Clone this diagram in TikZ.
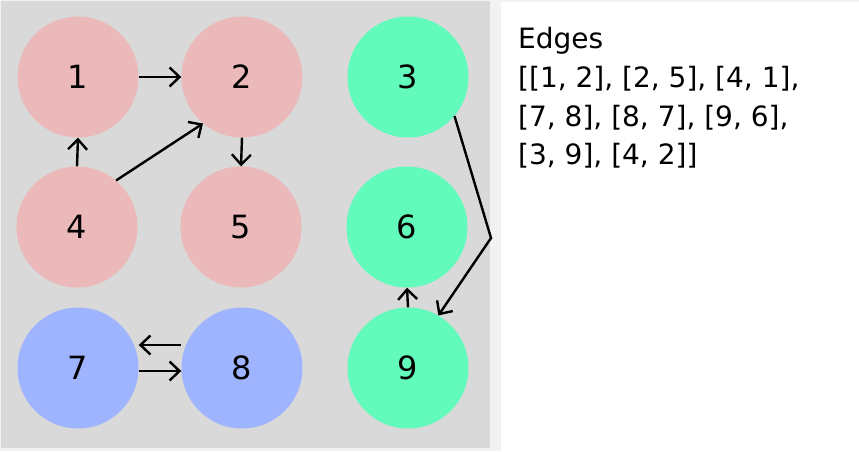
\documentclass[tikz,border=0pt]{standalone}
\usepackage{fontspec}
\setmainfont{DejaVu Sans}
\usetikzlibrary{arrows.meta}
\definecolor{pinkc}{HTML}{EBB9B9}
\definecolor{greenc}{HTML}{62FBBB}
\definecolor{bluec}{HTML}{9FB4FF}
\definecolor{panel}{HTML}{D9D9D9}
\definecolor{outer}{HTML}{F2F2F2}
\tikzset{
  vtx/.style={circle, minimum size=121pt, inner sep=0pt, draw=none, font=\fontsize{32}{38}\selectfont},
  pinkv/.style={vtx, fill=pinkc},
  greenv/.style={vtx, fill=greenc},
  bluev/.style={vtx, fill=bluec},
  conn/.style={line width=2.4pt, -{Straight Barb[length=10pt,width=19pt,line width=2.4pt]}},
  edgetxt/.style={anchor=base west, inner sep=0pt, font=\fontsize{28}{33}\selectfont}
}
\begin{document}
\begin{tikzpicture}[x=1pt,y=-1pt]
\fill[outer] (0,0) rectangle (859,451);
\useasboundingbox (0,0) rectangle (859,451);
\fill[panel] (1,1) rectangle (490,448);
\fill[white] (501,2) rectangle (859,451);

\node[pinkv] (n1) at (78,77) {1};
\node[pinkv] (n2) at (242,77) {2};
\node[greenv] (n3) at (408,77) {3};
\node[pinkv] (n4) at (77,227) {4};
\node[pinkv] (n5) at (241,227) {5};
\node[greenv] (n6) at (407,227) {6};
\node[bluev] (n7) at (78,368) {7};
\node[bluev] (n8) at (242,368) {8};
\node[greenv] (n9) at (408,368) {9};

\coordinate (bend) at (491,238);

\draw[conn] (n1.east) -- (n2.west);
\draw[conn] (n4.north) -- (n1.south);
\draw[conn] (n4.50) -- (n2.230);
\draw[conn] (n2.south) -- (n5.north);
\draw[conn] ([yshift=23pt]n8.west) -- ([yshift=23pt]n7.east);
\draw[conn] ([yshift=-3pt]n7.east) -- ([yshift=-3pt]n8.west);
\draw[conn] (n9.north) -- (n6.south);
\draw[conn] (n3.-40) -- (bend) -- (n9.60);

\node[edgetxt] (t0) at (518,48) {Edges};
\node[edgetxt] (t1) at (518,87) {[[1, 2], [2, 5], [4, 1],};
\node[edgetxt] (t2) at (518,126) {[7, 8], [8, 7], [9, 6],};
\node[edgetxt] (t3) at (518,164) {[3, 9], [4, 2]]};
\end{tikzpicture}
\end{document}
